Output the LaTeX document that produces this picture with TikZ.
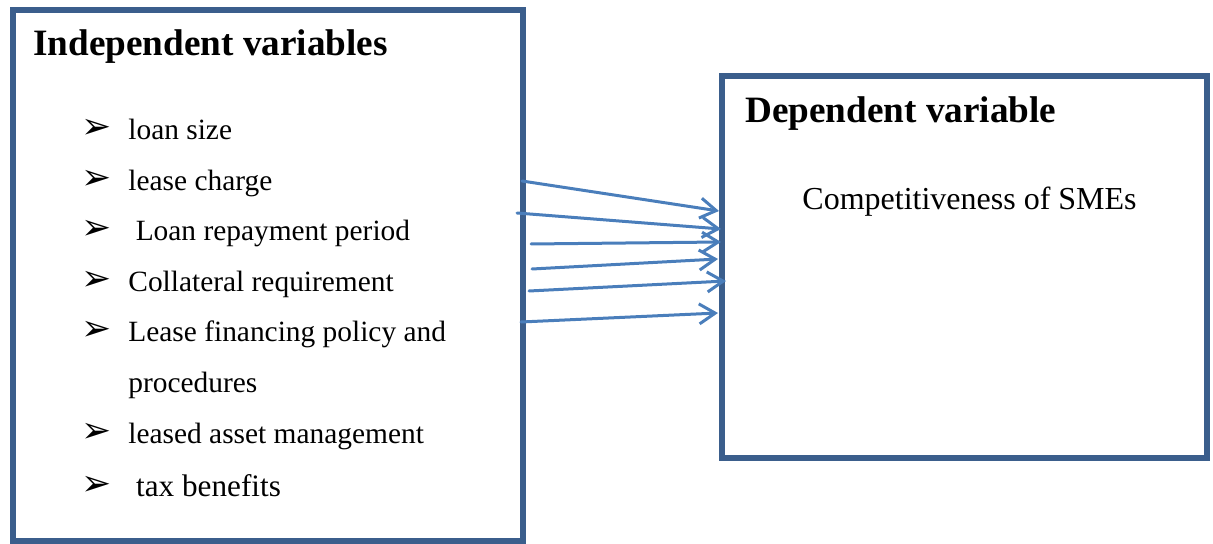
\documentclass[tikz,border=0pt]{standalone}
\usepackage{fontspec}
\setmainfont{Liberation Serif}
\newfontfamily\dingfont{DejaVu Sans}
\usetikzlibrary{arrows.meta}
\definecolor{boxblue}{HTML}{3B5E8C}
\definecolor{arrowblue}{HTML}{4A7EBB}
\tikzset{>={Straight Barb[length=8pt,width=10pt,line width=1.5pt]}}
\tikzset{
  varbox/.style={draw=boxblue, line width=2.6pt, inner sep=0pt},
  head/.style={anchor=base west, inner sep=0pt, font=\fontsize{18.6}{22}\selectfont\bfseries},
  item/.style={anchor=base west, inner sep=0pt, font=\fontsize{14.7}{17}\selectfont},
  tick/.style={anchor=base west, inner sep=0pt, font=\dingfont\fontsize{18}{20}\selectfont},
  link/.style={->, draw=arrowblue, line width=1.5pt, line cap=round, line join=round}
}

\begin{document}
\begin{tikzpicture}[x=0.5pt, y=-0.5pt]

  \useasboundingbox (0,0) rectangle (1213,544);

  \newcommand\dY{50.5};

  % the two boxes
  \node[varbox, minimum width=255pt, minimum height=265.5pt] (indep) at (268, 275.5) {};
  \node[varbox, minimum width=242.5pt, minimum height=191pt] (dep) at (964.5, 267) {};

  \node[head] (indeptitle) at (33, 56) {Independent variables};
  \node[head] (deptitle) at (745, 123) {Dependent variable};
  \node[item, font=\fontsize{16}{19}\selectfont] (comp) at (802, 210) {Competitiveness of SMEs};

  % list of independent variables
  \node[tick] (b1) at (81, 139+0*\dY) {➢};
  \node[item] (t1) at (128, 140+0*\dY) {loan size};
  \node[tick] (b2) at (81, 139+1*\dY) {➢};
  \node[item] (t2) at (128, 140+1*\dY) {lease charge};
  \node[tick] (b3) at (81, 139+2*\dY) {➢};
  \node[item] (t3) at (128, 140+2*\dY) {\ Loan repayment period};
  \node[tick] (b4) at (81, 139+3*\dY) {➢};
  \node[item] (t4) at (128, 140+3*\dY) {Collateral requirement};
  \node[tick] (b5) at (81, 139+4*\dY) {➢};
  \node[item] (t5) at (128, 140+4*\dY) {Lease financing policy and};
  \node[item] (t5b) at (128, 140+5*\dY) {procedures};
  \node[tick] (b6) at (81, 139+6*\dY) {➢};
  \node[item] (t6) at (128, 140+6*\dY) {leased asset management};
  \node[tick] (b7) at (81, 495) {➢};
  \node[item, font=\fontsize{15.6}{18}\selectfont] (t7) at (128, 496) {\ tax benefits};

  % arrow ends
  \coordinate (s1) at (522, 181); \coordinate (e1) at (719, 211);
  \coordinate (s2) at (517, 213); \coordinate (e2) at (721, 229);
  \coordinate (s3) at (531, 244); \coordinate (e3) at (721, 242);
  \coordinate (s4) at (532, 269); \coordinate (e4) at (718, 259);
  \coordinate (s5) at (529, 291); \coordinate (e5) at (726, 281);
  \coordinate (s6) at (521, 322); \coordinate (e6) at (718, 313);

  \draw[link] (s1) -- (e1);
  \draw[link] (s2) -- (e2);
  \draw[link] (s3) -- (e3);
  \draw[link] (s4) -- (e4);
  \draw[link] (s5) -- (e5);
  \draw[link] (s6) -- (e6);

\end{tikzpicture}
\end{document}
